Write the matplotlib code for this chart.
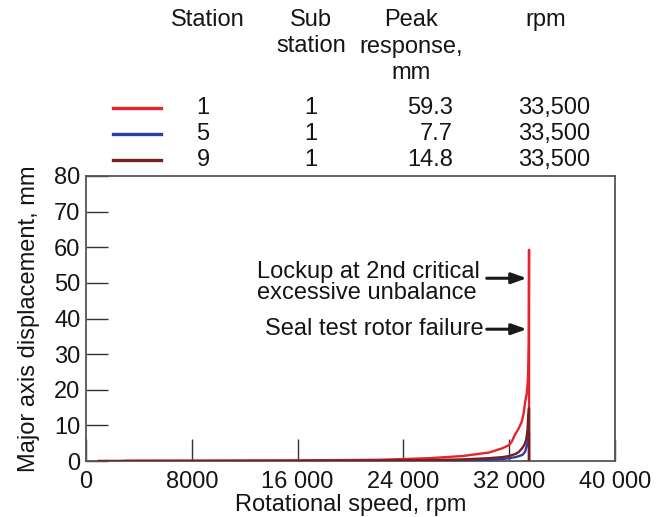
import matplotlib
matplotlib.use("Agg")
import matplotlib.pyplot as plt
from matplotlib.lines import Line2D

plt.rcParams['font.family'] = ['Liberation Sans', 'DejaVu Sans']

W, H = 661, 517
FS = 17
TXT = '#151515'

# Table entries
stations = ["1", "5", "9"]
substations = ["1", "1", "1"]
peak_mm = [59.3, 7.7, 14.8]
peak_rpm = ["33,500", "33,500", "33,500"]
colors = ['#e8232e', '#2a3fa6', '#7a1f1f']

# Response curves (rotational speed, rpm / major axis displacement, mm)
rpm_st1 = [2950, 8000, 12000, 16000, 20000, 22200, 24000, 26000, 28500, 30500,
           31000, 31500, 32000, 32200, 32450, 32700, 32950, 33100, 33200,
           33330, 33400, 33450, 33480, 33500, 33500]
disp_st1 = [0.05, 0.08, 0.12, 0.18, 0.28, 0.35, 0.55, 0.8, 1.4, 2.4,
            3.0, 3.6, 4.5, 5.5, 7.5, 9.0, 11.0, 13.5, 16.5,
            19.0, 22.0, 26.5, 33.0, 59.3, 0.0]

rpm_st5 = [18900, 22000, 26000, 28500, 30500, 31500, 32000, 32500, 33000,
           33200, 33380, 33450, 33500, 33500]
disp_st5 = [0.02, 0.05, 0.12, 0.2, 0.35, 0.55, 0.8, 1.1, 1.7,
            2.6, 5.0, 6.3, 7.7, 0.0]

rpm_st9 = [960, 8000, 16000, 22200, 26000, 28500, 30500, 31500, 32000, 32500,
           32750, 33000, 33150, 33280, 33380, 33430, 33470, 33500, 33500]
disp_st9 = [0.02, 0.04, 0.07, 0.12, 0.25, 0.45, 0.8, 1.1, 1.4, 2.0,
            2.6, 3.7, 4.6, 5.9, 8.5, 12.0, 13.8, 14.8, 0.0]

x_ticks = [0, 8000, 16000, 24000, 32000, 40000]
x_tick_labels = ["0", "8000", "16 000", "24 000", "32 000", "40 000"]
y_ticks = [0, 10, 20, 30, 40, 50, 60, 70, 80]


def fpx(x, y):
    return x / W, 1 - y / H


fig = plt.figure(figsize=(W / 100, H / 100), dpi=100)
ax = fig.add_axes([86 / W, (H - 461) / H, (615 - 86) / W, (461 - 176) / H])

ax.plot(rpm_st1, disp_st1, color=colors[0], lw=1.7, zorder=3)
ax.plot(rpm_st5, disp_st5, color=colors[1], lw=1.7, zorder=4)
ax.plot(rpm_st9, disp_st9, color=colors[2], lw=1.7, zorder=5)

ax.set_xlim(0, 40000)
ax.set_ylim(0, 80)
ax.set_xticks(x_ticks)
ax.set_xticklabels(x_tick_labels)
ax.set_yticks(y_ticks)
ax.tick_params(direction='in', length=16, width=1.0, color='#333333',
               labelsize=FS, labelcolor=TXT)
ax.tick_params(axis='x', pad=7)
ax.tick_params(axis='y', pad=4)
for s in ax.spines.values():
    s.set_color('#555555')
    s.set_linewidth(1.3)

ax.set_xlabel("Rotational speed, rpm", fontsize=FS, color=TXT, labelpad=1)
ax.set_ylabel("Major axis displacement, mm", fontsize=FS, color=TXT, labelpad=10)

# Annotations
ax.text(12950, 50.1, "Lockup at 2nd critical\nexcessive unbalance", fontsize=FS,
        color=TXT, ha='left', va='center', linespacing=0.92)
ax.text(13500, 37.0, "Seal test rotor failure", fontsize=FS, color=TXT,
        ha='left', va='center')
arrow = dict(arrowstyle='-|>,head_length=0.9,head_width=0.32', lw=2.2,
             color='#1a1a1a', shrinkA=0, shrinkB=0)
ax.annotate('', xy=(33330, 51.3), xytext=(30300, 51.3), arrowprops=arrow)
ax.annotate('', xy=(33330, 37.0), xytext=(30300, 37.0), arrowprops=arrow)

# Table header
header_y = [20, 46.5, 73]
fig.text(*fpx(208, header_y[0]), "Station", fontsize=FS, color=TXT, ha='center', va='center')
for i, line in enumerate(["Sub", "station"]):
    fig.text(*fpx(311, header_y[i]), line, fontsize=FS, color=TXT, ha='center', va='center')
for i, line in enumerate(["Peak", "response,", "mm"]):
    fig.text(*fpx(411, header_y[i]), line, fontsize=FS, color=TXT, ha='center', va='center')
fig.text(*fpx(546, header_y[0]), "rpm", fontsize=FS, color=TXT, ha='center', va='center')

# Table rows
row_y = [108, 134, 160]
for st, sub, pk, rp, c, y in zip(stations, substations, peak_mm, peak_rpm, colors, row_y):
    x0, yy = fpx(113, y)
    x1, _ = fpx(161, y)
    fig.add_artist(Line2D([x0, x1], [yy, yy], color=c, lw=2.4, transform=fig.transFigure))
    fig.text(*fpx(203, y), st, fontsize=FS, color=TXT, ha='center', va='center')
    fig.text(*fpx(311, y), sub, fontsize=FS, color=TXT, ha='center', va='center')
    fig.text(*fpx(453, y), f"{pk:.1f}", fontsize=FS, color=TXT, ha='right', va='center')
    fig.text(*fpx(590, y), rp, fontsize=FS, color=TXT, ha='right', va='center')

fig.savefig("out.png", dpi=100)
